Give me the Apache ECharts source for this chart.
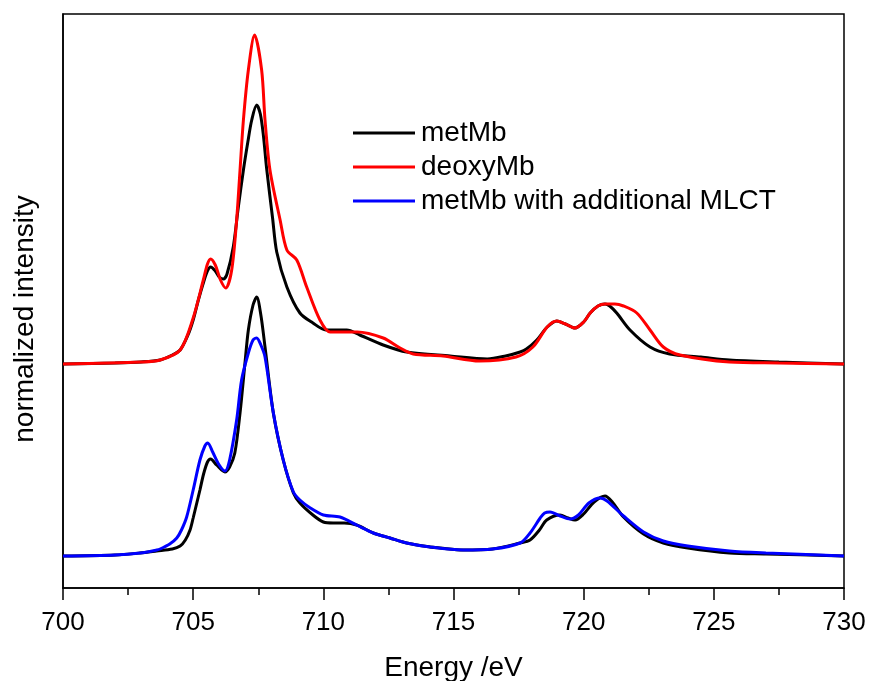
<!DOCTYPE html>
<html>
<head>
<meta charset="utf-8">
<script src="https://cdn.jsdelivr.net/npm/echarts@6/dist/echarts.min.js"></script>
<style>
  html, body { margin: 0; padding: 0; background: #fff; }
  #main { width: 869px; height: 681px; }
</style>
</head>
<body>
<div id="main"></div>
<script>
// energies (eV) and normalized intensities (arb. units, offset spectra)
var metTopE = [700, 702, 703, 703.73, 704.2, 704.5, 704.8, 705.0, 705.2, 705.39, 705.55, 705.67, 705.85, 706.0, 706.16, 706.3, 706.54, 706.73, 706.93, 707.1, 707.25, 707.44, 707.58, 707.7, 707.82, 708.05, 708.21, 708.6, 709.1, 709.6, 710.1, 710.9, 711.4, 712.3, 713.2, 714.87, 716.3, 717.0, 717.56, 717.8, 718.2, 718.6, 718.97, 719.3, 719.67, 720.0, 720.25, 720.55, 720.82, 721.0, 721.27, 721.78, 722.55, 723.3, 724.5, 725.6, 727.5, 730];
var metTop = [224, 225, 226, 228, 233, 238, 253, 268, 288, 305, 317, 321, 317, 311, 309, 314, 341, 380, 418, 446, 468, 483, 474, 452, 420, 370, 336, 301, 275, 265, 258, 258, 253, 243, 236, 232, 229, 232, 236, 239, 248, 261, 267, 264, 260, 266, 275, 282, 284, 282, 275, 258, 241, 234, 231, 228, 226, 224];

var deoxyE = [700, 703, 703.73, 704.5, 705.0, 705.39, 705.55, 705.67, 705.85, 706.05, 706.25, 706.48, 706.67, 706.8, 706.93, 707.12, 707.36, 707.63, 707.76, 707.95, 708.34, 708.6, 708.98, 709.36, 709.87, 710.26, 711.3, 712.3, 712.95, 713.45, 714.6, 716.0, 717.4, 718.05, 718.6, 718.97, 719.3, 719.67, 720.0, 720.25, 720.55, 720.82, 721.2, 721.53, 722.04, 722.55, 723.06, 723.7, 725.6, 727.5, 730];
var deoxy = [224, 226, 228, 238, 270, 308, 324, 329, 323, 308, 300, 318, 368, 418, 468, 518, 553, 518, 468, 418, 368, 338, 328, 301, 268, 256, 256, 250, 240, 234, 232, 227, 231, 241, 261, 267, 264, 260, 266, 275, 282, 284, 284, 282, 275, 258, 241, 233, 226, 225, 224];

var metLowE = [700, 702, 702.96, 703.6, 704.2, 704.5, 704.7, 704.88, 705.0, 705.13, 705.26, 705.4, 705.55, 705.67, 705.9, 706.22, 706.4, 706.6, 706.8, 706.99, 707.12, 707.3, 707.44, 707.6, 707.76, 708.08, 708.46, 708.85, 709.1, 709.6, 710.0, 710.38, 710.8, 711.28, 711.92, 712.56, 713.2, 714.1, 714.48, 715.37, 716.5, 717.56, 717.94, 718.3, 718.58, 719.09, 719.4, 719.67, 720.0, 720.4, 720.82, 721.1, 721.53, 722.3, 723.06, 724, 725.6, 727, 730];
var metLow = [32, 33, 35, 37, 39, 42, 48, 58, 70, 84, 98, 114, 126, 129, 123, 116, 121, 135, 175, 225, 258, 283, 291, 273, 241, 175, 128, 95, 85, 73, 66, 65, 65, 63, 55, 50, 45, 41, 40, 38, 39, 45, 48, 58, 68, 73, 70, 68, 74, 86, 92, 86, 71, 54, 45, 40, 35, 34, 32];

var mlctE = [700, 702, 702.96, 703.6, 703.73, 704.1, 704.37, 704.55, 704.75, 705.0, 705.26, 705.45, 705.56, 705.75, 706.0, 706.22, 706.4, 706.67, 706.86, 707.12, 707.3, 707.44, 707.6, 707.76, 708.08, 708.46, 708.85, 709.1, 709.5, 710.0, 710.64, 711.28, 711.92, 712.56, 713.2, 714.1, 715.37, 716.5, 717.56, 717.94, 718.33, 718.5, 718.71, 719.1, 719.48, 719.8, 720.2, 720.63, 720.9, 721.53, 722.3, 723.06, 724, 725.6, 727, 730];
var mlct = [32, 33, 35, 38, 39, 44, 50, 58, 71, 98, 128, 142, 145, 136, 123, 117, 128, 168, 208, 235, 248, 250, 243, 231, 175, 128, 96, 88, 80, 73, 71, 63, 55, 50, 45, 41, 38, 39, 45, 55, 70, 75, 76, 72, 69, 73, 85, 90, 87, 72, 56, 47, 42, 37, 35, 32];

var xTicks = [700, 705, 710, 715, 720, 725, 730];

function pairs(xs, ys) {
  var out = [];
  for (var i = 0; i < xs.length; i++) out.push([xs[i], ys[i]]);
  return out;
}

var font = 'Liberation Sans, Arial, sans-serif';
var chart = echarts.init(document.getElementById('main'));

function line(name, color, xs, ys) {
  return {
    name: name,
    type: 'line',
    data: pairs(xs, ys),
    symbol: 'none',
    smooth: 0.3,
    lineStyle: { color: color, width: 3 },
    itemStyle: { color: color },
    animation: false
  };
}

var option = {
  backgroundColor: '#fff',
  textStyle: { fontFamily: font },
  grid: {
    left: 63, right: 25, top: 14, bottom: 93,
    outerBoundsMode: 'none',
    containLabel: false,
    show: true, borderColor: '#000', borderWidth: 1.5, backgroundColor: 'transparent'
  },
  legend: {
    orient: 'vertical',
    left: 348,
    top: 114,
    itemWidth: 62,
    itemHeight: 3,
    itemGap: 6,
    icon: 'rect',
    textStyle: { fontSize: 28, color: '#000', fontFamily: font, lineHeight: 28, padding: [0, 0, 0, 1] },
    data: ['metMb', 'deoxyMb', 'metMb with additional MLCT']
  },
  xAxis: {
    type: 'value',
    min: xTicks[0],
    max: xTicks[xTicks.length - 1],
    interval: 5,
    name: 'Energy /eV',
    nameLocation: 'middle',
    nameGap: 66,
    nameTextStyle: { fontSize: 28, color: '#000', fontFamily: font },
    axisLine: { show: true, lineStyle: { color: '#000', width: 1.5 } },
    axisTick: { show: true, length: 12, lineStyle: { color: '#000', width: 1.5 } },
    minorTick: { show: true, splitNumber: 2, length: 7, lineStyle: { color: '#000', width: 1.5 } },
    axisLabel: { fontSize: 26, color: '#000', margin: 22, fontFamily: font },
    splitLine: { show: false }
  },
  yAxis: {
    type: 'value',
    min: 0,
    max: 574,
    axisLine: { show: true, lineStyle: { color: '#000', width: 1.5 } },
    axisTick: { show: false },
    axisLabel: { show: false },
    splitLine: { show: false }
  },
  graphic: [{
    type: 'text',
    x: 25,
    y: 319,
    rotation: Math.PI / 2,
    style: {
      text: 'normalized intensity',
      font: '28px ' + font,
      fill: '#000',
      textAlign: 'center',
      textVerticalAlign: 'middle'
    }
  }],
  series: [
    line('metMb', '#000000', metTopE, metTop),
    line('deoxyMb', '#ff0000', deoxyE, deoxy),
    line('metMb', '#000000', metLowE, metLow),
    line('metMb with additional MLCT', '#0000ff', mlctE, mlct)
  ]
};
chart.setOption(option);
</script>
</body>
</html>
